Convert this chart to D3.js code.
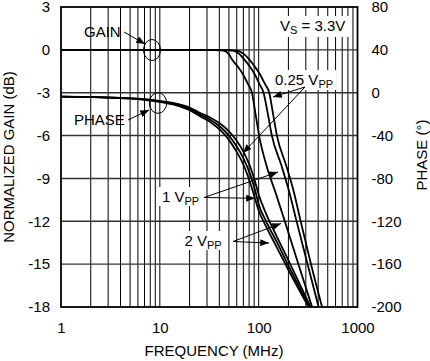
<!DOCTYPE html>
<html>
<head>
<meta charset="utf-8">
<script src="https://cdn.jsdelivr.net/npm/d3@7/dist/d3.min.js"></script>
<style>
  html, body { margin: 0; padding: 0; background: #fff; }
  svg { display: block; font-family: "Liberation Sans", Arial, sans-serif; }
</style>
</head>
<body>
<svg id="chart" width="430" height="361"></svg>
<script>
// ---- data ----
const freqTicks = [1, 10, 100, 1000];
const gainTicks = [3, 0, -3, -6, -9, -12, -15, -18];
const phaseTicks = [80, 40, 0, -40, -80, -120, -160, -200];

// gain curves: [MHz, dB]
const gain2Vpp = [[1,0],[10,0],[30,0],[44,-0.05],[50,-0.3],[54,-0.7],[62,-1.2],[70,-1.76],[78,-2.4],[85.5,-3],[93,-4.5],[101,-6],[120,-8.1],[150,-10.1],[182,-11.9],[254,-15.06],[347,-18]];
const gain1Vpp = [[1,0],[10,0],[40,0],[55,-0.05],[64,-0.3],[72,-0.7],[82,-1.2],[92,-1.76],[102,-2.4],[112,-3],[124,-4.5],[136,-6],[170,-8.1],[205,-10],[240,-11.9],[314,-15.06],[404,-18]];
const gain025Vpp = [[1,0],[10,0],[40,0],[60,-0.05],[71,-0.3],[81,-0.7],[92,-1.2],[104,-1.76],[116,-2.4],[128,-3],[140,-4.5],[153,-6],[190,-8.1],[228,-10],[264,-11.9],[340,-15.06],[438,-18]];

// phase curves: [MHz, degrees]
const phase2Vpp = [[1,-3.7],[2.5,-4.4],[5,-5.5],[9,-7.9],[14,-11.2],[20,-16.2],[25,-21.5],[32,-27],[41,-35],[50,-44],[58,-53],[70,-67],[82,-84],[92,-99],[100,-110],[119,-125],[154,-145],[199,-165],[320,-200]];
const phase1Vpp = [[1,-3.7],[2.5,-4.3],[5,-5.3],[9,-7.5],[14,-10.5],[20,-15],[25,-20],[32,-25],[41,-32],[50,-40],[58,-48],[70,-61],[82,-76],[92,-91],[100,-104],[119,-120],[154,-140],[199,-161],[326,-200]];
const phase025Vpp = [[1,-3.7],[2.5,-4.2],[5,-5.1],[9,-7.1],[14,-9.8],[20,-13.8],[25,-18.5],[32,-23],[41,-29],[50,-36],[58,-43],[70,-55],[82,-69],[92,-83],[100,-95],[119,-113],[154,-135],[199,-156],[335,-200]];

// ---- layout ----
const L = 61, R = 357.5, T = 7, B = 307;
const svg = d3.select("#chart");
svg.append("rect").attr("width", 430).attr("height", 361).attr("fill", "#fff");

const x = d3.scaleLog().domain([1, 1000]).range([L, R]);
const yG = d3.scaleLinear().domain([-18, 3]).range([B, T]);
const yP = d3.scaleLinear().domain([-200, 80]).range([B, T]);

// grid
const vLines = [];
[1, 10, 100].forEach(d => { for (let m = 2; m <= 10; m++) vLines.push(d * m); });
svg.append("g").selectAll("line").data(vLines.filter(v => v < 1000)).join("line")
  .attr("x1", d => x(d)).attr("x2", d => x(d)).attr("y1", T).attr("y2", B)
  .attr("stroke", "#000").attr("stroke-width", 1);
svg.append("g").selectAll("line").data(gainTicks.filter(v => v > -18 && v < 3)).join("line")
  .attr("x1", L).attr("x2", R).attr("y1", d => yG(d)).attr("y2", d => yG(d))
  .attr("stroke", "#333").attr("stroke-width", 1.4);

// axes
const fs = 15;
const axL = svg.append("g").attr("transform", `translate(${L},0)`)
  .call(d3.axisLeft(yG).tickValues(gainTicks).tickFormat(d => d).tickSize(0).tickPadding(11));
const axR = svg.append("g").attr("transform", `translate(${R},0)`)
  .call(d3.axisRight(yP).tickValues(phaseTicks).tickFormat(d => d).tickSize(0).tickPadding(14));
const axB = svg.append("g").attr("transform", `translate(0,${B})`)
  .call(d3.axisBottom(x).tickValues(freqTicks).tickFormat(d => d).tickSize(0).tickPadding(15));
[axL, axR, axB].forEach(a => {
  a.select(".domain").remove();
  a.selectAll("text").attr("font-size", fs).attr("fill", "#000")
    .attr("font-family", "'Liberation Sans', Arial, sans-serif");
});

// titles
svg.append("text").attr("x", 214).attr("y", 356).attr("text-anchor", "middle")
  .attr("font-size", fs).text("FREQUENCY (MHz)");
svg.append("text").attr("transform", "translate(14,157) rotate(-90)").attr("text-anchor", "middle")
  .attr("font-size", fs).text("NORMALIZED GAIN (dB)");
svg.append("text").attr("transform", "translate(427,155) rotate(-90)").attr("text-anchor", "middle")
  .attr("font-size", fs).text("PHASE (°)");

// white label boxes
const boxes = [[276, 16, 76, 21], [272, 70, 64, 20], [159, 187, 45, 19], [182, 231, 43, 19]];
svg.append("g").selectAll("rect").data(boxes).join("rect")
  .attr("x", d => d[0]).attr("y", d => d[1]).attr("width", d => d[2]).attr("height", d => d[3])
  .attr("fill", "#fff");

// curves
const clipId = "plotclip";
svg.append("clipPath").attr("id", clipId).append("rect")
  .attr("x", L).attr("y", T).attr("width", R - L).attr("height", B - T);
const lineG = d3.line().x(d => x(d[0])).y(d => yG(d[1])).curve(d3.curveMonotoneX);
const lineP = d3.line().x(d => x(d[0])).y(d => yP(d[1])).curve(d3.curveMonotoneX);
const cg = svg.append("g").attr("clip-path", `url(#${clipId})`);
[gain2Vpp, gain1Vpp, gain025Vpp].forEach(s => cg.append("path").attr("d", lineG(s))
  .attr("fill", "none").attr("stroke", "#000").attr("stroke-width", 1.8));
[phase2Vpp, phase1Vpp, phase025Vpp].forEach(s => cg.append("path").attr("d", lineP(s))
  .attr("fill", "none").attr("stroke", "#000").attr("stroke-width", 1.8));

// frame
svg.append("rect").attr("x", L).attr("y", T).attr("width", R - L).attr("height", B - T)
  .attr("fill", "none").attr("stroke", "#000").attr("stroke-width", 1.8);

// arrow marker
svg.append("defs").append("marker").attr("id", "ah").attr("viewBox", "0 0 10 8")
  .attr("refX", 10).attr("refY", 4).attr("markerWidth", 10).attr("markerHeight", 7)
  .attr("markerUnits", "userSpaceOnUse").attr("orient", "auto")
  .append("path").attr("d", "M0,0 L10,4 L0,8 Z").attr("fill", "#000");

const arrows = [
  [124, 32, 145, 44],
  [128, 120, 149, 110],
  [305, 87, 273, 97],
  [305, 87, 243, 153],
  [204, 197.5, 278, 172],
  [204, 197.5, 255, 198.3],
  [233, 241.5, 281, 223.5],
  [233, 241.5, 269, 243]
];
svg.append("g").selectAll("line").data(arrows).join("line")
  .attr("x1", d => d[0]).attr("y1", d => d[1]).attr("x2", d => d[2]).attr("y2", d => d[3])
  .attr("stroke", "#000").attr("stroke-width", 1).attr("marker-end", "url(#ah)");

// ellipses
svg.append("ellipse").attr("cx", 152).attr("cy", 50).attr("rx", 8.5).attr("ry", 10.5)
  .attr("fill", "none").attr("stroke", "#000").attr("stroke-width", 1);
svg.append("ellipse").attr("cx", 158).attr("cy", 103).attr("rx", 8.7).attr("ry", 10.3)
  .attr("fill", "none").attr("stroke", "#000").attr("stroke-width", 1);

// annotation text
svg.append("text").attr("x", 84).attr("y", 36.5).attr("font-size", fs).text("GAIN");
svg.append("text").attr("x", 74).attr("y", 125).attr("font-size", fs).text("PHASE");

function subLabel(px, py, main, sub, tail) {
  const t = svg.append("text").attr("x", px).attr("y", py).attr("font-size", fs);
  t.append("tspan").text(main);
  t.append("tspan").attr("font-size", 11).attr("dy", 3).text(sub);
  if (tail) t.append("tspan").attr("dy", -3).text(tail);
}
subLabel(280, 30.5, "V", "S", " = 3.3V");
subLabel(275, 84.5, "0.25 V", "PP");
subLabel(162, 201.5, "1 V", "PP");
subLabel(184.5, 245.5, "2 V", "PP");
</script>
</body>
</html>
